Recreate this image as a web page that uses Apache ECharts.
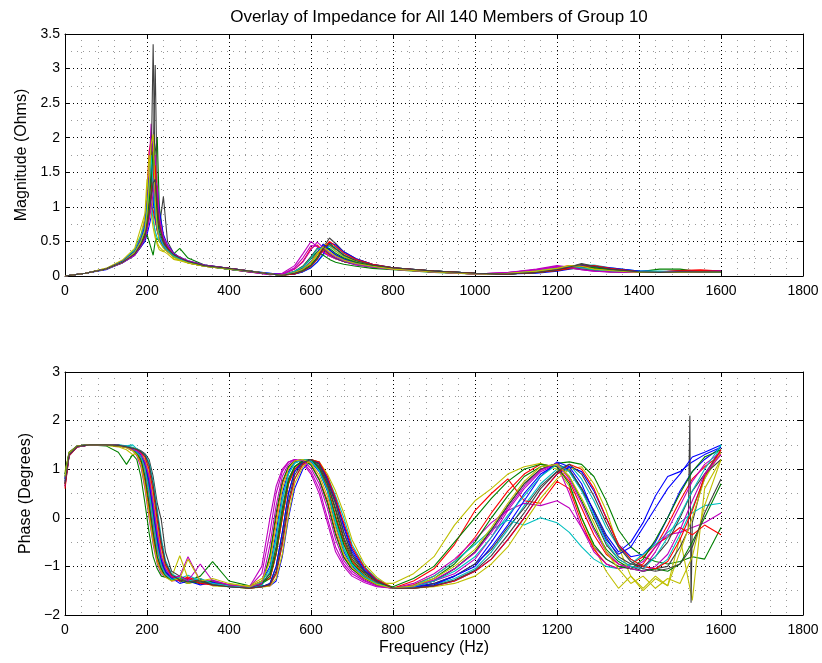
<!DOCTYPE html>
<html>
<head>
<meta charset="utf-8">
<script src="https://cdn.jsdelivr.net/npm/echarts@6/dist/echarts.min.js"></script>
<style>
html,body{margin:0;padding:0;background:#fff;}
#chart{width:822px;height:663px;}
</style>
</head>
<body>
<div id="chart"></div>
<script>
// ---------- DATA ----------
const titleText = 'Overlay of Impedance for All 140 Members of Group 10';
const xName = 'Frequency (Hz)';
const magName = 'Magnitude (Ohms)';
const phName = 'Phase (Degrees)';

// Magnitude frequency grid (Hz)
const freqMag = [0,50,100,140,170,185, 195,200,205,210,215,220,225,230,240,250, 265,280,300,340,400,450,500,530,
  560,580,600,615,630,645,660,680,710,750, 800,900,1000,1080,1150,1200,1230,1260,1290,1330, 1400,1450,1500,1550,1600];

const mag01 = [0,0.04,0.1,0.2,0.33,0.48, 0.65,0.85,1.2,1.7,1.95,1.2,0.8,0.6,0.45,0.38, 0.3,0.25,0.2,0.15,0.1,0.07,0.03,0.01, 0.05,0.1,0.2,0.34,0.45,0.38,0.31,0.25,0.19,0.14, 0.11,0.07,0.04,0.03,0.06,0.1,0.14,0.16,0.13,0.09, 0.06,0.05,0.06,0.07,0.07];
const mag02 = [0,0.04,0.1,0.19,0.3,0.42, 0.55,0.7,0.85,1.1,1.4,1.8,2.0,1.0,0.55,0.42, 0.32,0.4,0.26,0.16,0.11,0.07,0.03,0.01, 0.04,0.08,0.15,0.26,0.42,0.48,0.4,0.3,0.22,0.16, 0.12,0.07,0.04,0.03,0.05,0.08,0.11,0.14,0.15,0.1, 0.06,0.1,0.1,0.06,0.05];
const mag03 = [0,0.04,0.1,0.21,0.36,0.56, 0.8,1.2,1.8,1.95,1.3,0.9,0.7,0.55,0.42,0.35, 0.28,0.24,0.19,0.14,0.1,0.06,0.03,0.02, 0.1,0.21,0.4,0.45,0.36,0.3,0.26,0.21,0.17,0.13, 0.1,0.06,0.03,0.04,0.08,0.12,0.15,0.12,0.09,0.07, 0.05,0.05,0.06,0.06,0.07];
const mag04 = [0,0.04,0.1,0.2,0.32,0.46, 0.6,0.75,0.95,1.2,1.4,1.45,1.0,0.7,0.5,0.4, 0.31,0.26,0.21,0.15,0.11,0.07,0.04,0.02, 0.03,0.06,0.12,0.2,0.3,0.44,0.42,0.32,0.23,0.16, 0.12,0.07,0.04,0.03,0.05,0.08,0.11,0.15,0.16,0.12, 0.07,0.06,0.06,0.06,0.06];
const mag05 = [0,0.04,0.1,0.21,0.35,0.52, 0.7,1.0,1.5,2.2,1.6,1.0,0.75,0.58,0.45,0.37, 0.29,0.25,0.2,0.15,0.1,0.06,0.02,0.04, 0.15,0.32,0.5,0.42,0.34,0.29,0.25,0.21,0.16,0.13, 0.1,0.06,0.03,0.05,0.1,0.15,0.13,0.1,0.08,0.07, 0.05,0.05,0.07,0.07,0.08];
const mag06 = [0,0.04,0.11,0.22,0.38,0.6, 0.85,1.2,1.75,1.4,0.9,0.6,0.45,0.38,0.35,0.4, 0.25,0.23,0.2,0.15,0.1,0.07,0.03,0.01, 0.07,0.14,0.27,0.38,0.38,0.3,0.25,0.21,0.17,0.13, 0.1,0.06,0.03,0.04,0.07,0.11,0.14,0.13,0.1,0.08, 0.05,0.05,0.06,0.06,0.06];
const mag07 = [0,0.04,0.1,0.2,0.32,0.46, 0.6,0.8,1.1,1.5,3.35,1.3,0.9,0.7,1.15,0.5, 0.33,0.27,0.21,0.16,0.11,0.07,0.03,0.01, 0.03,0.07,0.15,0.25,0.41,0.55,0.47,0.35,0.25,0.17, 0.12,0.07,0.04,0.03,0.05,0.09,0.13,0.18,0.14,0.1, 0.06,0.05,0.05,0.06,0.06];
const mag08 = [0,0.04,0.09,0.19,0.3,0.42, 0.5,0.6,0.72,0.85,1.0,1.2,1.3,0.95,0.6,0.45, 0.33,0.27,0.22,0.16,0.11,0.07,0.04,0.02, 0.03,0.06,0.12,0.2,0.32,0.48,0.45,0.35,0.25,0.17, 0.12,0.07,0.04,0.03,0.04,0.07,0.1,0.13,0.14,0.12, 0.07,0.06,0.07,0.08,0.07];
const mag09 = [0,0.04,0.1,0.21,0.36,0.45, 0.55,0.6,0.5,0.4,0.3,0.5,0.55,0.5,0.42,0.36, 0.28,0.24,0.19,0.14,0.1,0.06,0.03,0.01, 0.06,0.12,0.25,0.35,0.3,0.24,0.2,0.17,0.14,0.11, 0.09,0.05,0.03,0.03,0.06,0.09,0.11,0.1,0.08,0.06, 0.05,0.05,0.05,0.05,0.05];
const mag10 = [0,0.04,0.1,0.2,0.33,0.48, 0.6,0.75,0.9,1.0,0.95,0.8,0.65,0.55,0.45,0.38, 0.3,0.25,0.2,0.15,0.1,0.07,0.03,0.01, 0.05,0.1,0.2,0.31,0.39,0.31,0.26,0.21,0.17,0.13, 0.1,0.06,0.03,0.03,0.06,0.1,0.13,0.14,0.11,0.08, 0.06,0.06,0.08,0.09,0.07];
const mag11 = [0,0.04,0.1,0.22,0.38,0.58, 0.75,1.0,1.2,1.05,0.8,0.65,0.55,0.5,0.42,0.36, 0.29,0.24,0.2,0.15,0.1,0.07,0.03,0.01, 0.04,0.07,0.14,0.24,0.38,0.43,0.36,0.28,0.21,0.15, 0.11,0.07,0.04,0.03,0.05,0.09,0.12,0.15,0.13,0.09, 0.07,0.07,0.06,0.06,0.06];
const mag12 = [0,0.04,0.1,0.2,0.31,0.44, 0.55,0.68,0.85,1.15,1.6,1.75,1.1,0.75,0.52,0.42, 0.31,0.26,0.21,0.15,0.1,0.06,0.02,0.03, 0.12,0.26,0.44,0.43,0.34,0.29,0.25,0.21,0.16,0.13, 0.1,0.06,0.03,0.05,0.09,0.14,0.12,0.09,0.07,0.06, 0.05,0.05,0.06,0.06,0.07];
const mag13 = [0,0.04,0.11,0.23,0.4,0.7, 0.9,1.4,1.2,0.9,0.7,0.55,0.48,0.42,0.36,0.32, 0.24,0.22,0.19,0.14,0.1,0.07,0.03,0.01, 0.05,0.09,0.18,0.3,0.46,0.45,0.36,0.28,0.21,0.15, 0.11,0.07,0.04,0.03,0.05,0.09,0.14,0.16,0.12,0.08, 0.05,0.05,0.05,0.06,0.06];
const mag14 = [0,0.04,0.1,0.2,0.32,0.44, 0.55,0.7,0.9,1.2,1.7,3.05,1.2,0.8,0.55,0.42, 0.32,0.26,0.21,0.15,0.11,0.07,0.03,0.01, 0.07,0.14,0.28,0.4,0.4,0.32,0.26,0.21,0.17,0.13, 0.11,0.07,0.04,0.03,0.05,0.08,0.11,0.13,0.12,0.09, 0.06,0.06,0.07,0.07,0.07];
const mag15 = [0,0.04,0.1,0.21,0.35,0.52, 0.72,1.0,1.4,1.6,1.2,0.85,0.66,0.55,0.43,0.36, 0.29,0.25,0.2,0.15,0.1,0.07,0.03,0.01, 0.05,0.1,0.21,0.34,0.46,0.38,0.3,0.24,0.18,0.14, 0.11,0.07,0.04,0.03,0.05,0.09,0.12,0.15,0.14,0.1, 0.07,0.06,0.06,0.07,0.07];
const mag16 = [0,0.04,0.1,0.2,0.33,0.47, 0.62,0.8,1.05,1.4,1.8,1.3,0.85,0.65,0.48,0.4, 0.3,0.26,0.21,0.15,0.1,0.07,0.03,0.01, 0.04,0.08,0.16,0.27,0.38,0.4,0.33,0.26,0.2,0.15, 0.11,0.07,0.04,0.03,0.05,0.08,0.12,0.14,0.12,0.09, 0.06,0.06,0.06,0.06,0.06];
const mag17 = [0,0.04,0.1,0.2,0.32,0.45, 0.58,0.72,0.9,1.15,1.45,1.6,1.1,0.75,0.5,0.41, 0.31,0.26,0.21,0.15,0.11,0.07,0.03,0.01, 0.03,0.07,0.14,0.24,0.38,0.5,0.43,0.33,0.24,0.17, 0.12,0.07,0.04,0.03,0.05,0.08,0.11,0.14,0.15,0.11, 0.06,0.06,0.07,0.08,0.07];
const mag18 = [0,0.04,0.1,0.2,0.34,0.5, 0.68,0.95,1.3,1.75,1.3,0.9,0.7,0.57,0.44,0.37, 0.29,0.25,0.2,0.15,0.1,0.07,0.03,0.01, 0.07,0.13,0.26,0.39,0.41,0.33,0.27,0.22,0.17,0.13, 0.1,0.06,0.03,0.04,0.07,0.12,0.14,0.12,0.09,0.07, 0.06,0.06,0.06,0.06,0.06];
const mag19 = [0,0.04,0.1,0.19,0.3,0.43, 0.55,0.66,0.8,0.98,1.2,1.38,1.3,0.85,0.56,0.44, 0.32,0.27,0.22,0.16,0.11,0.07,0.03,0.02, 0.1,0.2,0.38,0.49,0.41,0.33,0.27,0.22,0.17,0.13, 0.1,0.06,0.03,0.05,0.09,0.13,0.12,0.09,0.07,0.06, 0.05,0.05,0.06,0.06,0.07];
const mag20 = [0,0.04,0.1,0.2,0.34,0.5, 0.66,0.9,1.3,1.9,2.05,1.1,0.7,0.5,0.4,0.35, 0.27,0.23,0.19,0.14,0.1,0.07,0.03,0.01, 0.05,0.1,0.2,0.33,0.42,0.35,0.29,0.23,0.18,0.14, 0.1,0.06,0.03,0.04,0.07,0.11,0.15,0.14,0.1,0.08, 0.05,0.05,0.05,0.06,0.06];
const mag21 = [0,0.04,0.1,0.2,0.32,0.45, 0.58,0.72,0.92,1.15,1.35,1.4,1.0,0.72,0.5,0.4, 0.31,0.26,0.21,0.15,0.11,0.07,0.03,0.01, 0.04,0.07,0.15,0.25,0.4,0.46,0.39,0.3,0.22,0.16, 0.12,0.07,0.04,0.03,0.05,0.09,0.13,0.17,0.14,0.1, 0.06,0.05,0.06,0.06,0.06];

// Phase frequency grid (Hz)
const freqPh = [0,10,30,60,100,130,150,165, 175,185,195,205,215,225,235,245,260, 280,300,330,360,400,450,480,
  500,515,530,545,560,580,600,620,640,660,680,700,730,760, 800,850,900,950,1000,1040,1080,1120,1160,1200,
  1230,1260,1290,1320,1350,1380,1410,1440,1470,1500,1530,1560,1600];

const ph01 = [0.9,1.35,1.48,1.5,1.5,1.49,1.46,1.42, 1.32,1.2,0.85,0.3,-0.3,-0.8,-1.05,-1.2,-1.25, -1.22,-1.3,-1.28,-1.35,-1.38,-1.42,-1.3, -1.0,-0.3,0.5,0.95,1.15,1.2,1.15,0.95,0.55,-0.15,-0.7,-1.0,-1.22,-1.36, -1.45,-1.42,-1.35,-1.2,-0.95,-0.5,0.0,0.5,0.9,1.1, 1.0,0.6,0.15,-0.35,-0.7,-0.5,-0.1,0.45,0.85,0.95,1.15,1.3,1.45];
const ph02 = [0.75,1.3,1.47,1.5,1.48,1.35,1.1,1.3, 1.2,0.85,0.3,-0.3,-0.8,-1.05,-1.2,-1.22,-1.28, -1.25,-1.3,-1.2,-0.9,-1.3,-1.4,-1.35, -1.25,-0.75,0.0,0.7,1.0,1.15,1.2,1.05,0.7,0.15,-0.45,-0.85,-1.15,-1.32, -1.45,-1.4,-1.3,-1.05,-0.7,-0.25,0.25,0.7,1.0,1.12, 1.15,1.1,0.85,0.35,-0.25,-0.6,-0.8,-0.9,-0.95,-0.9,-0.8,-0.85,-0.2];
const ph03 = [0.6,1.28,1.46,1.5,1.5,1.48,1.45,1.4, 1.35,1.28,1.05,0.6,0.0,-0.55,-0.95,-1.15,-1.3, -1.28,-1.32,-1.25,-1.38,-1.4,-1.43,-1.38, -0.8,0.0,0.7,1.05,1.17,1.2,1.1,0.8,0.35,-0.3,-0.8,-1.05,-1.25,-1.38, -1.45,-1.38,-1.2,-0.9,-0.4,0.1,0.55,0.9,1.1,1.05, 0.75,0.2,-0.35,-0.75,-0.95,-1.05,-0.95,-0.6,-0.15,0.35,0.8,1.05,1.3];
const ph04 = [0.85,1.32,1.48,1.5,1.5,1.5,1.47,1.45, 1.4,1.35,1.28,1.05,0.6,0.0,-0.55,-0.95,-1.2, -1.25,-1.18,-1.3,-1.35,-1.4,-1.45,-1.42, -1.38,-1.15,-0.55,0.25,0.8,1.1,1.2,1.12,0.85,0.45,0.0,-0.55,-1.0,-1.25, -1.45,-1.45,-1.38,-1.25,-1.05,-0.7,-0.25,0.25,0.7,1.0, 1.1,0.8,0.35,-0.2,-0.6,-0.85,-1.0,-1.05,-0.85,-0.35,0.2,0.8,1.5];
const ph05 = [0.7,1.3,1.47,1.5,1.5,1.48,1.44,1.38, 1.28,1.05,0.6,0.0,-0.55,-0.95,-1.15,-1.22,-1.25, -1.2,-0.8,-1.3,-1.28,-1.38,-1.42,-1.15, -0.3,0.5,0.95,1.15,1.2,1.15,0.95,0.6,0.0,-0.6,-0.95,-1.15,-1.3,-1.4, -1.45,-1.35,-1.15,-0.85,-0.45,-0.1,0.15,0.3,0.25,0.35, 0.2,-0.2,-0.6,-0.85,-1.0,-1.05,-0.9,-0.6,-0.35,-0.3,-0.2,-0.1,0.1];
const ph06 = [0.95,1.35,1.48,1.5,1.49,1.46,1.4,1.3, 1.33,1.22,0.95,0.45,-0.15,-0.7,-1.0,-1.18,-1.22, -0.78,-1.25,-1.3,-1.35,-1.38,-1.4,-1.25, -1.15,-0.6,0.2,0.8,1.05,1.18,1.2,1.0,0.6,0.0,-0.55,-0.92,-1.2,-1.35, -1.35,-1.15,-0.8,-0.15,0.35,0.6,0.9,1.05,1.12,1.0, 0.65,0.0,-0.6,-1.1,-1.45,-1.2,-1.5,-1.25,-1.4,-0.4,-1.7,0.6,1.2];
const ph07 = [0.8,1.3,1.47,1.5,1.5,1.49,1.47,1.44, 1.42,1.38,1.32,1.2,0.85,0.3,-0.05,-0.7,-1.1, -1.2,-1.28,-1.35,-1.3,-1.4,-1.44,-1.42, -1.35,-1.0,-0.3,0.5,0.95,1.15,1.2,1.1,0.75,0.3,-0.3,-0.75,-1.1,-1.3, -1.45,-1.45,-1.35,-1.2,-0.95,-0.65,-0.2,0.2,0.65,0.95, 1.0,0.6,0.0,-0.55,-0.85,-1.0,-1.1,-1.05,-1.0,-0.6,-0.1,0.9,1.4];
// extra samples of member 7 around its glitch near 1525 Hz
const ph07GlitchFreq = [1520,1524,1527];
const ph07GlitchVals = [-0.25,2.1,-1.75];
const ph08 = [0.65,1.28,1.46,1.5,1.5,1.49,1.46,1.43, 1.38,1.32,1.15,0.85,0.3,-0.3,-0.8,-1.05,-1.22, -1.3,-1.25,-1.35,-1.32,-1.4,-1.43,-1.4, -1.4,-1.3,-0.8,0.0,0.6,1.0,1.17,1.15,0.8,0.35,-0.15,-0.65,-1.05,-1.28, -1.45,-1.45,-1.4,-1.3,-1.1,-0.85,-0.45,0.0,0.5,0.9, 1.05,0.95,0.55,0.0,-0.55,-0.8,-0.75,-0.5,0.0,0.55,0.95,1.2,1.45];
const ph09 = [0.85,1.32,1.48,1.5,1.5,1.48,1.45,1.4, 1.36,1.3,1.12,0.75,0.18,-0.42,-0.88,-1.1,-1.24, -1.3,-1.35,-1.28,-1.38,-1.42,-1.45,-1.4, -0.75,0.1,0.75,1.05,1.17,1.2,1.08,0.78,0.3,-0.35,-0.82,-1.05,-1.25,-1.38, -1.45,-1.4,-1.25,-0.95,-0.5,0.0,0.45,0.85,1.05,1.1, 0.85,0.35,-0.2,-0.65,-0.9,-1.05,-1.1,-1.05,-1.1,-0.95,-0.5,0.0,0.7];
const ph10 = [0.7,1.3,1.47,1.5,1.5,1.48,1.45,1.4, 1.3,1.15,0.75,0.18,-0.42,-0.88,-1.1,-1.2,-1.26, -1.28,-1.22,-1.32,-1.35,-1.4,-1.42,-1.3, -1.25,-0.75,0.0,0.7,1.0,1.15,1.2,1.02,0.65,0.05,-0.5,-0.88,-1.18,-1.33, -1.45,-1.3,-1.05,-0.55,0.15,0.5,0.8,0.35,0.3,0.75, 0.6,-0.1,-0.65,-0.95,-1.05,-0.95,-0.8,-0.55,-0.4,-0.2,-0.35,-0.15,-0.35];
const ph11 = [0.75,1.3,1.47,1.5,1.5,1.5,1.48,1.5, 1.42,1.36,1.3,1.15,0.75,0.18,-0.42,-0.88,-1.15, -1.25,-1.3,-1.32,-1.38,-1.42,-1.44,-1.4, -1.1,-0.45,0.35,0.9,1.12,1.2,1.17,0.98,0.6,-0.05,-0.62,-0.95,-1.2,-1.35, -1.45,-1.4,-1.2,-0.9,-0.55,-0.25,-0.05,-0.15,0.0,-0.1, -0.3,-0.6,-0.85,-1.0,-1.05,-0.95,-0.75,-0.55,-0.3,-0.1,0.1,0.25,0.3];
const ph12 = [0.8,1.32,1.48,1.5,1.5,1.49,1.46,1.42, 1.34,1.25,1.0,0.5,-0.1,-0.65,-1.0,-1.17,-1.25, -1.3,-1.25,-1.35,-1.3,-1.4,-1.42,-1.0, 0.0,0.65,1.0,1.15,1.2,1.12,0.9,0.5,-0.1,-0.7,-1.0,-1.2,-1.33,-1.42, -1.45,-1.42,-1.3,-1.15,-0.85,-0.4,0.15,0.6,0.95,1.1, 0.5,-0.2,-0.7,-0.95,-1.05,-1.0,-1.05,-0.7,-0.25,0.25,0.75,1.1,1.35];
const ph13 = [0.9,1.33,1.48,1.5,1.5,1.49,1.47,1.44, 1.4,1.33,1.2,0.92,0.42,-0.18,-0.72,-1.0,-1.2, -1.25,-1.35,-1.3,-1.4,-1.42,-1.45,-1.43, -1.4,-1.25,-0.75,0.05,0.7,1.05,1.2,1.15,0.9,0.55,0.1,-0.45,-0.95,-1.22, -1.45,-1.45,-1.42,-1.35,-1.2,-0.95,-0.6,-0.1,0.4,0.8, 1.0,1.05,0.7,0.15,-0.6,-1.2,-1.45,-1.2,-1.4,-0.7,0.0,0.8,1.35];
const ph14 = [0.7,1.3,1.47,1.5,1.5,1.48,1.45,1.41, 1.36,1.28,1.08,0.65,0.08,-0.5,-0.92,-1.12,-1.25, -1.2,-1.3,-1.28,-1.35,-1.4,-1.44,-1.35, -1.15,-0.6,0.2,0.8,1.05,1.18,1.2,1.05,0.7,0.2,-0.4,-0.8,-1.12,-1.3, -1.45,-1.42,-1.3,-1.05,-0.7,-0.25,0.25,0.7,1.0,1.12, 0.95,0.6,0.15,-0.4,-0.8,-0.95,-1.0,-0.8,-0.5,0.0,0.55,0.9,1.2];
const ph15 = [0.8,1.32,1.48,1.5,1.5,1.49,1.47,1.43, 1.36,1.3,1.12,0.75,0.18,-0.42,-0.88,-1.1,-1.24, -1.35,-1.3,-1.38,-1.33,-1.42,-1.44,-1.42, -1.35,-1.0,-0.3,0.5,0.95,1.15,1.2,1.12,0.8,0.4,-0.2,-0.7,-1.08,-1.3, -1.45,-1.42,-1.38,-1.2,-1.0,-0.6,-0.15,0.35,0.85,1.15, 1.05,0.7,0.1,-0.45,-0.75,-0.6,-0.2,0.2,0.6,0.9,1.25,1.35,1.5];
const ph16 = [0.9,1.34,1.48,1.5,1.5,1.49,1.46,1.42, 1.32,1.2,0.85,0.3,-0.3,-0.8,-1.05,-1.2,-1.28, -1.25,-1.3,-1.35,-1.3,-1.4,-1.42,-1.35, -1.2,-0.7,0.1,0.75,1.05,1.17,1.2,1.0,0.6,0.0,-0.55,-0.92,-1.2,-1.35, -1.42,-1.25,-1.0,-0.5,0.0,0.4,0.75,1.0,1.1,1.05, 0.7,0.0,-0.55,-0.85,-1.0,-1.05,-0.85,-0.45,0.0,0.5,0.95,1.25,1.4];
const ph17 = [0.65,1.28,1.46,1.5,1.5,1.49,1.46,1.42, 1.4,1.34,1.25,1.0,0.55,-0.05,-0.6,-0.97,-1.2, -1.3,-1.25,-1.35,-1.38,-1.4,-1.45,-1.42, -1.38,-1.15,-0.55,0.25,0.8,1.1,1.2,1.15,0.85,0.4,-0.1,-0.6,-1.02,-1.27, -1.45,-1.45,-1.4,-1.3,-1.1,-0.85,-0.45,0.0,0.5,0.9, 1.1,1.0,0.6,0.0,-0.55,-0.85,-1.0,-1.05,-0.9,-0.45,0.15,0.85,1.4];
const ph18 = [0.8,1.3,1.47,1.5,1.5,1.49,1.47,1.44, 1.35,1.27,1.02,0.55,-0.05,-0.6,-0.98,-1.16,-1.27, -1.22,-1.3,-1.25,-1.35,-1.4,-1.43,-1.32, -1.05,-0.4,0.4,0.9,1.12,1.2,1.17,0.97,0.58,-0.1,-0.65,-0.97,-1.2,-1.35, -1.45,-1.42,-1.3,-1.1,-0.8,-0.4,0.05,0.45,0.85,1.1, 0.95,0.55,0.05,-0.5,-0.85,-1.0,-1.05,-0.8,-0.4,0.05,0.55,1.0,1.5];
const ph19 = [0.75,1.3,1.47,1.5,1.5,1.49,1.45,1.4, 1.38,1.32,1.15,0.85,0.3,-0.3,-0.8,-1.05,-1.22, -1.2,-1.3,-0.95,-1.3,-1.38,-1.42,-1.35, -0.55,0.25,0.85,1.1,1.2,1.18,1.02,0.7,0.2,-0.45,-0.88,-1.1,-1.28,-1.4, -1.45,-1.4,-1.28,-1.05,-0.72,-0.3,0.2,0.65,0.98,1.12, 0.8,0.3,-0.25,-0.7,-0.95,-1.05,-1.1,-1.0,-0.75,-0.25,0.35,0.9,1.3];
const ph20 = [0.85,1.33,1.48,1.5,1.5,1.48,1.44,1.38, 1.3,1.1,0.65,0.05,-0.5,-0.92,-1.12,-1.22,-1.3, -1.25,-0.85,-1.3,-1.25,-1.35,-1.42,-1.3, -0.9,-0.15,0.6,1.0,1.17,1.2,1.12,0.88,0.45,-0.2,-0.75,-1.02,-1.24,-1.37, -1.45,-1.4,-1.25,-1.0,-0.65,-0.2,0.3,0.75,1.05,1.1, 0.85,0.4,-0.1,-0.7,-1.05,-1.35,-1.2,-1.45,-1.25,-1.35,-0.8,0.25,1.2];
const ph21 = [0.7,1.3,1.47,1.5,1.5,1.49,1.46,1.43, 1.41,1.36,1.29,1.1,0.68,0.08,-0.5,-0.92,-1.17, -1.28,-1.32,-1.3,-1.38,-1.42,-1.45,-1.42, -1.37,-1.1,-0.45,0.35,0.88,1.13,1.2,1.1,0.75,0.3,-0.3,-0.75,-1.1,-1.3, -1.45,-1.45,-1.4,-1.28,-1.08,-0.78,-0.35,0.1,0.6,0.95, 1.1,0.9,0.45,-0.1,-0.6,-0.9,-1.05,-1.1,-1.05,-0.95,-0.6,0.1,0.8];

// MATLAB classic colour order
const lineColors = ['#0000FF','#008000','#FF0000','#00BFBF','#BF00BF','#BFBF00','#404040'];

// ---------- CHART ----------
const FONT = '"Liberation Sans", Arial, Helvetica, sans-serif';
const magList = [mag01,mag02,mag03,mag04,mag05,mag06,mag07,mag08,mag09,mag10,mag11,mag12,mag13,mag14,
                 mag15,mag16,mag17,mag18,mag19,mag20,mag21];
const phList = [ph01,ph02,ph03,ph04,ph05,ph06,ph07,ph08,ph09,ph10,ph11,ph12,ph13,ph14,
                ph15,ph16,ph17,ph18,ph19,ph20,ph21];
const minusFmt = v => String(v).replace('-', '\u2212');
const plainFmt = v => String(v);

function mainX(gi, withName) {
  const a = {
    gridIndex: gi, type: 'value', min: 0, max: 1800, interval: 200, position: 'bottom',
    axisLine: {show: true, onZero: false, lineStyle: {color: '#000', width: 1}},
    axisTick: {show: true, inside: true, length: 5, lineStyle: {color: '#000'}},
    axisLabel: {color: '#000', fontSize: 14, fontFamily: FONT, margin: 8, formatter: plainFmt},
    splitLine: {show: true, lineStyle: {color: '#000', type: [1, 3], width: 1}},
    minorTick: {show: false, splitNumber: 5},
    minorSplitLine: {show: true, lineStyle: {color: '#9a9a9a', type: [1, 5], width: 1}}
  };
  if (withName) {
    a.name = xName; a.nameLocation = 'middle'; a.nameGap = 25;
    a.nameTextStyle = {color: '#000', fontSize: 16, fontFamily: FONT};
  }
  return a;
}
function mirrorX(gi) {
  return {
    gridIndex: gi, type: 'value', min: 0, max: 1800, interval: 200, position: 'top',
    axisLine: {show: true, onZero: false, lineStyle: {color: '#000', width: 1}},
    axisTick: {show: true, inside: true, length: 5, lineStyle: {color: '#000'}},
    axisLabel: {show: false}, splitLine: {show: false}
  };
}
function mainY(gi, min, max, interval, minorSplit, name) {
  return {
    gridIndex: gi, type: 'value', min: min, max: max, interval: interval, position: 'left',
    name: name, nameLocation: 'middle', nameGap: 30, nameRotate: 90,
    nameTextStyle: {color: '#000', fontSize: 16, fontFamily: FONT},
    axisLine: {show: true, onZero: false, lineStyle: {color: '#000', width: 1}},
    axisTick: {show: true, inside: true, length: 5, lineStyle: {color: '#000'}},
    axisLabel: {color: '#000', fontSize: 14, fontFamily: FONT, margin: 5, formatter: minusFmt},
    splitLine: {show: true, lineStyle: {color: '#000', type: [1, 3], width: 1}},
    minorTick: {show: false, splitNumber: minorSplit},
    minorSplitLine: {show: true, lineStyle: {color: '#9a9a9a', type: [1, 5], width: 1}}
  };
}
function mirrorY(gi, min, max, interval) {
  return {
    gridIndex: gi, type: 'value', min: min, max: max, interval: interval, position: 'right',
    axisLine: {show: true, onZero: false, lineStyle: {color: '#000', width: 1}},
    axisTick: {show: true, inside: true, length: 5, lineStyle: {color: '#000'}},
    axisLabel: {show: false}, splitLine: {show: false}
  };
}

const series = [];
magList.forEach((arr, k) => {
  series.push({
    type: 'line', xAxisIndex: 0, yAxisIndex: 0,
    data: freqMag.map((f, i) => [f, arr[i]]),
    showSymbol: false, symbol: 'none', animation: false, silent: true,
    lineStyle: {width: 1.1, color: lineColors[k % 7]}, itemStyle: {color: lineColors[k % 7]}
  });
});
phList.forEach((arr, k) => {
  let pts = freqPh.map((f, i) => [f, arr[i]]);
  if (arr === ph07) {
    ph07GlitchFreq.forEach((f, i) => pts.push([f, ph07GlitchVals[i]]));
    pts.sort((a, b) => a[0] - b[0]);
  }
  series.push({
    type: 'line', xAxisIndex: 2, yAxisIndex: 2,
    data: pts,
    showSymbol: false, symbol: 'none', animation: false, silent: true,
    lineStyle: {width: 1.1, color: lineColors[k % 7]}, itemStyle: {color: lineColors[k % 7]}
  });
});

const option = {
  backgroundColor: '#fff',
  animation: false,
  title: {
    text: titleText, left: 434, top: 4, textAlign: 'center',
    textStyle: {fontSize: 17, fontWeight: 'normal', color: '#000', fontFamily: FONT}
  },
  grid: [
    {left: 65, top: 34, width: 738, height: 242, containLabel: false},
    {left: 65, top: 372, width: 738, height: 243, containLabel: false}
  ],
  xAxis: [mainX(0, false), mirrorX(0), mainX(1, true), mirrorX(1)],
  yAxis: [mainY(0, 0, 3.5, 0.5, 2, magName), mirrorY(0, 0, 3.5, 0.5),
          mainY(1, -2, 3, 1, 2, phName), mirrorY(1, -2, 3, 1)],
  series: series
};

const chart = echarts.init(document.getElementById('chart'), null, {renderer: 'canvas'});
chart.setOption(option);
</script>
</body>
</html>
